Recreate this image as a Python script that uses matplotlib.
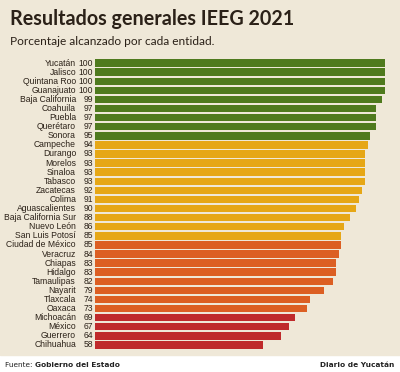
import numpy as np
import matplotlib
matplotlib.use("Agg")
import matplotlib.pyplot as plt


# Datos del IEEG 2021 (porcentaje por entidad)
estados = ['Yucatán', 'Jalisco', 'Quintana Roo', 'Guanajuato', 'Baja California',
           'Coahuila', 'Puebla', 'Querétaro', 'Sonora', 'Campeche', 'Durango',
           'Morelos', 'Sinaloa', 'Tabasco', 'Zacatecas', 'Colima', 'Aguascalientes',
           'Baja California Sur', 'Nuevo León', 'San Luis Potosí', 'Ciudad de México',
           'Veracruz', 'Chiapas', 'Hidalgo', 'Tamaulipas', 'Nayarit', 'Tlaxcala',
           'Oaxaca', 'Michoacán', 'México', 'Guerrero', 'Chihuahua']
valores = [100, 100, 100, 100, 99, 97, 97, 97, 95, 94, 93, 93, 93, 93, 92, 91, 90,
           88, 86, 85, 85, 84, 83, 83, 82, 79, 74, 73, 69, 67, 64, 58]
# cuantos estados hay en cada tramo de color
tramos = [9, 11, 8, 4]

colores_tramo = ['#4f7a1e', '#e6a716', '#dc5f23', '#bf2a2b']
colores = []
for c, n in zip(colores_tramo, tramos):
    colores += [c] * n

fondo = '#efe8d8'
texto = '#2b2118'
letra = ['Liberation Sans', 'DejaVu Sans']

fig = plt.figure(figsize=(4, 3.72), dpi=100)
fig.patch.set_facecolor('white')

# fondo beige (todo menos la franja del pie)
fig.patches.append(plt.Rectangle((0, 17 / 372), 1, 1, transform=fig.transFigure,
                                 color=fondo, zorder=-5))

ax = fig.add_axes([95 / 400, 1 - 349.5 / 372, 290 / 400, 291 / 372])
ax.set_facecolor('none')
y = np.arange(len(estados))
ax.barh(y, valores, height=0.82, color=colores, edgecolor='none')
ax.set_xlim(0, 100)
ax.set_ylim(len(estados) - 0.5, -0.5)
ax.axis('off')

# etiquetas de estado y valor
for i, (e, v) in enumerate(zip(estados, valores)):
    ax.annotate(e, (0, i), xytext=(-19, 0), textcoords='offset pixels',
                ha='right', va='center', fontsize=6.2, color=texto, family=letra)
    ax.annotate(str(v), (0, i), xytext=(-2, 0), textcoords='offset pixels',
                ha='right', va='center', fontsize=6.2, color=texto, family=letra)

fig.text(10 / 400, 1 - 25 / 372, 'Resultados generales IEEG 2021', fontsize=14.2,
         fontweight='bold', family='Lato', color=texto, va='baseline')
fig.text(10 / 400, 1 - 45 / 372, 'Porcentaje alcanzado por cada entidad.', fontsize=8.6,
         family='Lato', color=texto, va='baseline')

# pie de grafica
t = fig.text(5 / 400, 1 - 367 / 372, 'Fuente: ', fontsize=5.3, color='#222222',
             va='baseline')
fig.canvas.draw()
bb = t.get_window_extent()
fig.text(bb.x1 / 400, 1 - 367 / 372, 'Gobierno del Estado', fontsize=5.3,
         fontweight='bold', color='#222222', va='baseline')
fig.text(394 / 400, 1 - 367 / 372, 'Diario de Yucatán', fontsize=5.3,
         fontweight='bold', color='#222222', va='baseline', ha='right')

fig.savefig('out.png', dpi=100, facecolor=fig.get_facecolor())
